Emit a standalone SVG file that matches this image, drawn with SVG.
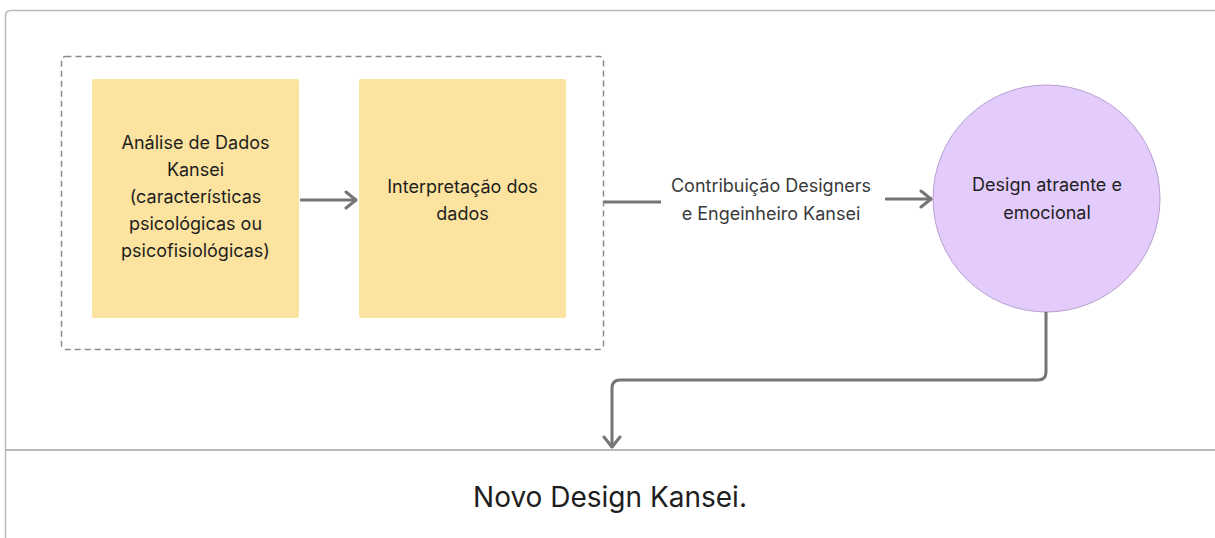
<svg xmlns="http://www.w3.org/2000/svg" width="1215" height="538" viewBox="0 0 1215 538">
<defs>
<marker id="chev" viewBox="0 0 14 20" refX="13" refY="10" markerWidth="14" markerHeight="20" markerUnits="userSpaceOnUse" orient="auto">
<path d="M2 2 L12 10 L2 18" fill="none" stroke="#757575" stroke-width="3" stroke-linecap="round" stroke-linejoin="round"/>
</marker>
<style>
text{font-family:Inter,"Liberation Sans",sans-serif;fill:#1e1e1e;text-anchor:middle}
.n{font-size:18px}
.l{fill:#3a3a3a}
.c{fill:none;stroke:#757575;stroke-width:3}
.box{fill:#fce39f}
</style>
</defs>
<rect width="1215" height="538" fill="#ffffff"/>
<g id="frame">
<path d="M5.5 538 L5.5 16 Q5.5 10.5 11 10.5 L1220 10.5" fill="none" stroke="#b8b8b8" stroke-width="1.5"/>
<line x1="5" y1="450" x2="1215" y2="450" stroke="#b8b8b8" stroke-width="2"/>
</g>
<g id="group">
<rect x="61.5" y="56.5" width="542" height="293" rx="4" fill="none" stroke="#8a8a8a" stroke-width="1.5" stroke-dasharray="6 4"/>
</g>
<g id="n1">
<rect class="box" x="92" y="79" width="207" height="239" rx="2"/>
<text class="n" x="195.5" y="149">Análise de Dados</text>
<text class="n" x="195.5" y="176">Kansei</text>
<text class="n" x="195.5" y="203">(características</text>
<text class="n" x="195.5" y="230">psicológicas ou</text>
<text class="n" x="195.5" y="257">psicofisiológicas)</text>
</g>
<g id="n2">
<rect class="box" x="359" y="79" width="207" height="239" rx="2"/>
<text class="n" x="462.5" y="193">Interpretação dos</text>
<text class="n" x="462.5" y="220">dados</text>
</g>
<g id="n3">
<circle cx="1046.5" cy="198.5" r="113.5" fill="#e3cbfc" stroke="#b79fd0" stroke-width="1"/>
<text class="n" x="1047" y="191">Design atraente e</text>
<text class="n" x="1047" y="219">emocional</text>
</g>
<g id="n4">
<text x="610" y="507" font-size="28">Novo Design Kansei.</text>
</g>
<g id="connectors">
<line class="c" x1="300" y1="200" x2="357" y2="200" marker-end="url(#chev)"/>
<line class="c" x1="604" y1="202" x2="661" y2="202"/>
<text class="n l" x="771" y="192">Contribuição Designers</text>
<text class="n l" x="771" y="220">e Engeinheiro Kansei</text>
<line class="c" x1="885" y1="199" x2="932" y2="199" marker-end="url(#chev)"/>
<path class="c" d="M1046 312 L1046 372 Q1046 380 1038 380 L620 380 Q612 380 612 388 L612 448" marker-end="url(#chev)"/>
</g>
</svg>
